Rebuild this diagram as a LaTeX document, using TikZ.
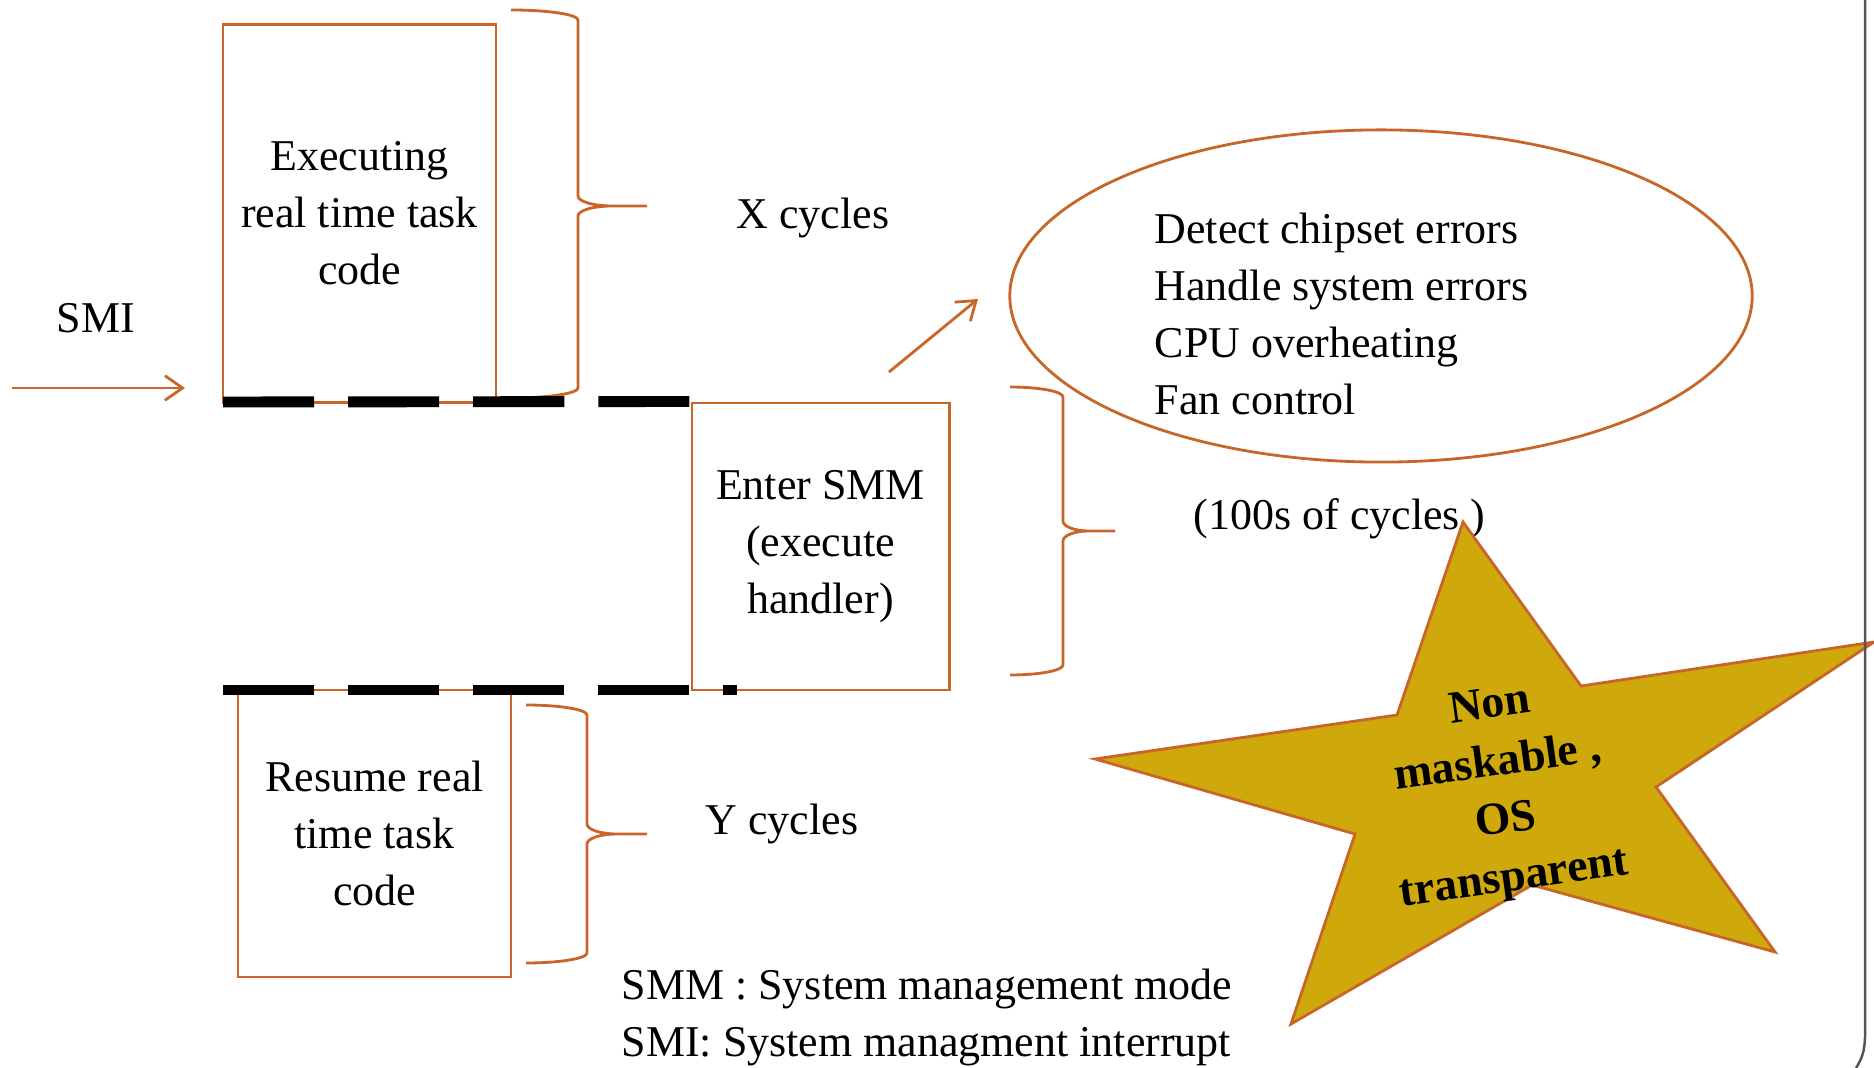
\documentclass[tikz,border=0pt]{standalone}
\usepackage{fontspec}
\setmainfont{Liberation Serif}
\usetikzlibrary{arrows.meta,shapes.geometric}

\definecolor{rust}{RGB}{200,102,42}
\definecolor{starfill}{RGB}{207,168,12}
\definecolor{framegrey}{RGB}{85,85,85}

% right curly brace: x of ends, x of stem, x of tip, y top, y tip, y bottom
\newcommand{\curlybrace}[6]{%
  \draw[bracestyle]
    (#1,#4) .. controls ({#2-0.45*(#2-#1)},#4) and (#2,{#4+4.5}) .. (#2,{#4+10})
    -- (#2,{#5-10}) .. controls (#2,{#5-4.5}) and ({#2+0.22*(#3-#2)},#5) .. ({#2+0.5*(#3-#2)},#5)
    -- (#3,#5)
    (#1,#6) .. controls ({#2-0.45*(#2-#1)},#6) and (#2,{#6-4.5}) .. (#2,{#6-10})
    -- (#2,{#5+10}) .. controls (#2,{#5+4.5}) and ({#2+0.22*(#3-#2)},#5) .. ({#2+0.5*(#3-#2)},#5)
    -- (#3,#5);%
}

\tikzset{
  txt/.style={inner sep=0pt, font=\fontsize{12.5}{16.2}\selectfont},
  box/.style={txt, draw=rust, line width=0.8pt, align=center},
  bracestyle/.style={draw=rust, line width=0.8pt},
  rustline/.style={draw=rust, line width=0.8pt},
  arrowline/.style={rustline, -{Straight Barb[length=5pt,width=7pt,line width=0.8pt]}},
  timeline/.style={draw=black, line width=3.1pt, line cap=butt, dash pattern=on 25.9pt off 9.67pt},
  starshape/.style={draw=rust, line width=0.8pt, fill=starfill, line join=miter},
}

\begin{document}
\begin{tikzpicture}[x=0.01cm,y=-0.01cm]
\useasboundingbox (0,0) rectangle (1874,1068);

% task boxes
\node[box, minimum width=2.73cm, minimum height=3.77cm] (exec) at (359.5,213.5)
  {Executing\\real time task\\code};
\node[box, minimum width=2.57cm, minimum height=2.87cm] (smm) at (820.5,546.5)
  {Enter SMM\\(execute\\handler)};
\node[box, minimum width=2.73cm, minimum height=2.87cm] (resume) at (374.5,833.5)
  {Resume real\\time task\\code};

% braces with their labels
\curlybrace{511}{578}{647}{10}{206}{398}
\curlybrace{526}{587}{647}{705}{834}{963}
\curlybrace{1010}{1063}{1115}{387}{531}{675}

\node[txt, anchor=base] (xcyc) at (813,229) {X cycles};
\node[txt, anchor=base] (ycyc) at (782,834) {Y cycles};
\node[txt, anchor=base west] (hcyc) at (1193,530) {(100s of cycles )};

% time lines
\coordinate (tl0) at (223,402);
\coordinate (bl0) at (223,690);
\coordinate (bl1) at (737,690);
\draw[timeline] (tl0) -- (smm.north west);
\draw[timeline] (bl0) -- (bl1);

% interrupt arrow
\node[txt, anchor=base] (smi) at (96,333) {SMI};
\coordinate (smiA) at (12,388);
\coordinate (smiB) at (185,388);
\draw[arrowline] (smiA) -- (smiB);

% handler duties
\node[draw=rust, line width=0.8pt, ellipse, minimum width=7.42cm, minimum height=3.32cm, inner sep=0pt] (duties) at (1381,296) {};
\node[txt, align=left, anchor=west] (dutytext) at (1154,314)
  {Detect chipset errors\\Handle system errors\\CPU overheating\\Fan control};
\coordinate (hA) at (889,372);
\coordinate (hB) at (978,299);
\draw[arrowline] (hA) -- (hB);

% legend
\node[txt, anchor=base west] (leg1) at (621,999) {SMM : System management mode};
\node[txt, anchor=base west] (leg2) at (621,1056) {SMI: System managment interrupt};

% star
\draw[starshape] (1463,522) -- (1581,686) -- (1874,642) -- (1656,787) -- (1775,952)
  -- (1532,885) -- (1291,1024) -- (1355,834) -- (1095,759) -- (1397,715) -- cycle;
\node[inner sep=0pt, align=center, rotate=8, font=\bfseries\fontsize{13}{16.5}\selectfont] (nmi) at (1502,794)
  {Non\\maskable ,\\OS\\transparent};

% slide frame edge
\draw[framegrey, line width=0.7pt] (1865,0) -- (1865,1035) .. controls (1865,1052) and (1861,1060) .. (1856,1068);
\end{tikzpicture}
\end{document}
